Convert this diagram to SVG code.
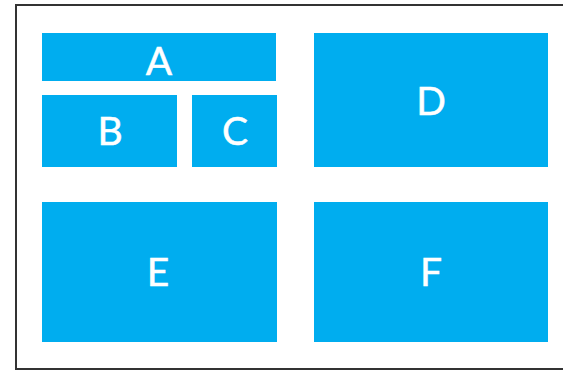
<svg xmlns="http://www.w3.org/2000/svg" width="563" height="371" viewBox="0 0 563 371">
<style>
.box{fill:#00adef;}
.lbl{fill:#ffffff;stroke:#ffffff;stroke-width:0.5;font-family:Lato,"Open Sans",sans-serif;font-size:39px;text-anchor:middle;}
</style>
<rect x="0" y="0" width="563" height="371" fill="#ffffff"/>
<rect x="16" y="5" width="560" height="364" fill="#ffffff" stroke="#333333" stroke-width="2"/>
<g id="A"><rect class="box" x="42" y="33" width="234" height="48"/><text class="lbl" x="159" y="75">A</text></g>
<g id="B"><rect class="box" x="42" y="95" width="135" height="72"/><text class="lbl" x="110" y="145">B</text></g>
<g id="C"><rect class="box" x="192" y="95" width="85" height="72"/><text class="lbl" x="235" y="145">C</text></g>
<g id="D"><rect class="box" x="314" y="33" width="234" height="134"/><text class="lbl" x="431" y="115">D</text></g>
<g id="E"><rect class="box" x="42" y="202" width="235" height="140"/><text class="lbl" x="158" y="286">E</text></g>
<g id="F"><rect class="box" x="314" y="202" width="234" height="140"/><text class="lbl" x="431" y="286">F</text></g>
<g id="connectors"></g>
</svg>
